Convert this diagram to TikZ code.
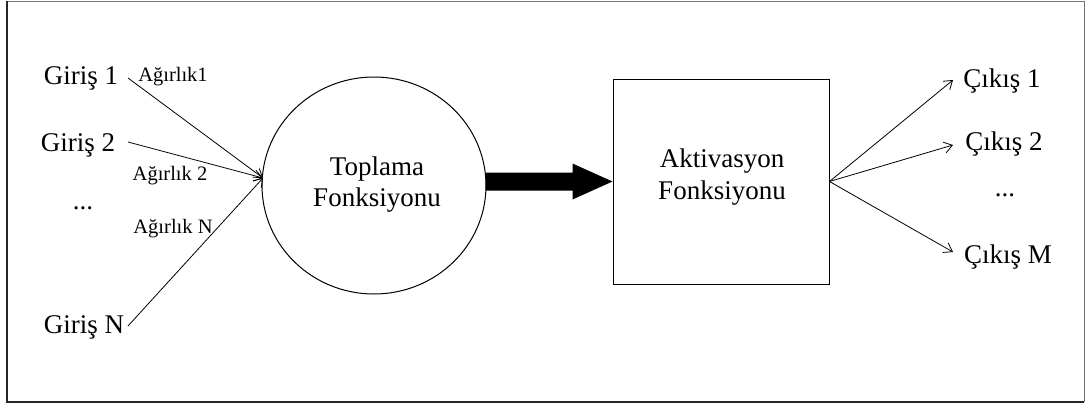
\documentclass[tikz,border=0pt]{standalone}
\usepackage{fontspec}
\setmainfont{Liberation Serif}
\usetikzlibrary{arrows.meta,shapes.geometric,calc}
\begin{document}
\begin{tikzpicture}[x=1pt,y=-1pt,
  bigtxt/.style={font=\fontsize{27}{31}\selectfont, inner sep=0pt, anchor=base},
  smalltxt/.style={font=\fontsize{20.5}{23}\selectfont, inner sep=0pt, anchor=base},
  conn/.style={line width=0.8pt, -{Straight Barb[length=8pt,width=11pt]}},
  frameline/.style={line width=1pt, draw=black!55}]
\useasboundingbox (0,0) rectangle (1086,407);
% frame
\draw[frameline] (7,1) -- (1084,1) -- (1084,402);
\draw[line width=2pt, black!85] (7,1) -- (7,402) -- (1084,402);
% main blocks
\node[ellipse, draw, line width=1pt, minimum width=224pt, minimum height=217pt, inner sep=0pt] (sum) at (374,185.5) {};
\node[font=\fontsize{27}{31}\selectfont, align=center, inner sep=0pt] (sumtxt) at (377,184.5) {Toplama\\Fonksiyonu};
\node[rectangle, draw, line width=1pt, minimum width=216pt, minimum height=205pt, inner sep=0pt] (act) at (721,181.5) {};
\node[font=\fontsize{27}{32}\selectfont, align=center, inner sep=0pt] (acttxt) at (722,177.5) {Aktivasyon\\Fonksiyonu};
% thick arrow
\fill ($(act.west)+(-127,-9)$) -- ($(act.west)+(-40,-9)$) -- ($(act.west)+(-40,-18)$) -- (act.west)
  -- ($(act.west)+(-40,18)$) -- ($(act.west)+(-40,9)$) -- ($(act.west)+(-127,9)$) -- cycle;
% inputs
\node[bigtxt] (g1) at (81,84) {Giriş 1};
\node[bigtxt] (g2) at (78,151) {Giriş 2};
\node[bigtxt] (gd) at (83,209) {...};
\node[bigtxt] (gN) at (84,333) {Giriş N};
\node[smalltxt] (w1) at (173,81) {Ağırlık1};
\node[smalltxt] (w2) at (170,180) {Ağırlık 2};
\node[smalltxt] (wN) at (173,233) {Ağırlık N};
\coordinate (i1) at (128,78);
\coordinate (i2) at (128,142);
\coordinate (iN) at (128,326);
\coordinate (sin) at (263,178);
\draw[conn] (i1) -- (sin);
\draw[conn] (i2) -- (sin);
\draw[conn] (iN) -- (sin);
% outputs
\node[bigtxt] (c1) at (1002,87) {Çıkış 1};
\node[bigtxt] (c2) at (1004,150) {Çıkış 2};
\node[bigtxt] (cd) at (1005,196) {...};
\node[bigtxt] (cM) at (1008,263) {Çıkış M};
\coordinate (o1) at (953,80);
\coordinate (o2) at (953,145);
\coordinate (oM) at (953,252);
\draw[conn] (act.east) -- (o1);
\draw[conn] (act.east) -- (o2);
\draw[conn] (act.east) -- (oM);
\end{tikzpicture}
\end{document}
